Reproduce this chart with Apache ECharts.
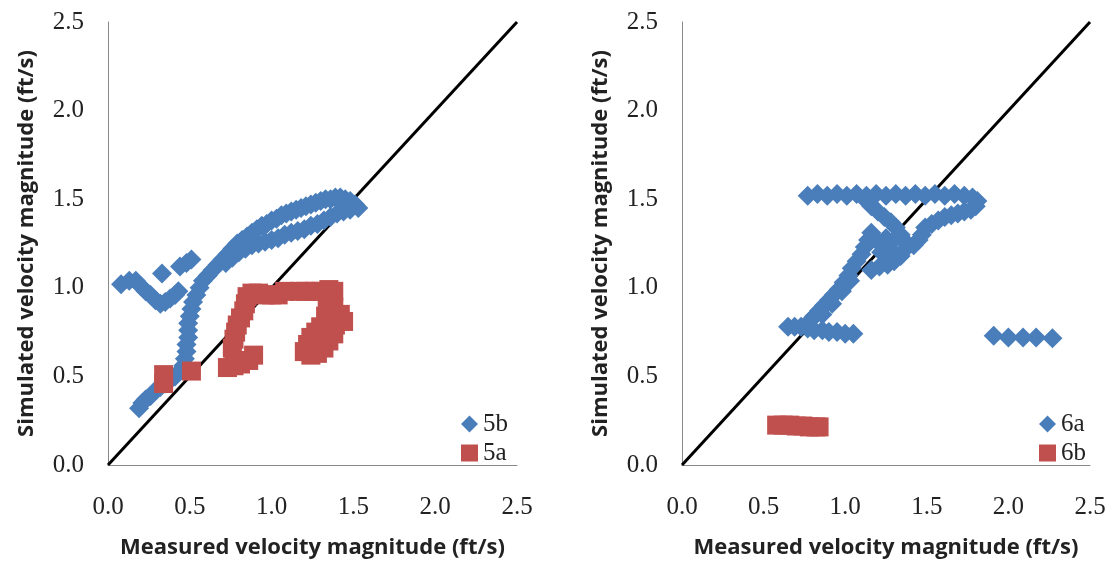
<!DOCTYPE html>
<html lang="en">
<head>
  <meta charset="UTF-8">
  <title>Measured vs simulated velocity</title>
  <script src="https://cdn.jsdelivr.net/npm/echarts@6/dist/echarts.min.js"></script>
</head>
<body style="margin:0;background:#fff;">
<div id="main" style="width:1112px;height:564px;"></div>
<script>
  // axis ticks (both panels)
  var ticks = [0.0, 0.5, 1.0, 1.5, 2.0, 2.5];
  var oneToOne = [[0, 0], [2.5, 2.5]];

  // left panel
  var s5b = [
    // V on the left + loose points
    [0.08, 1.02], [0.13, 1.04], [0.17, 1.04], [0.2, 1.01], [0.23, 0.98], [0.26, 0.96], [0.29, 0.93], [0.32, 0.91],
    [0.35, 0.92], [0.38, 0.94], [0.41, 0.96], [0.43, 0.98],
    [0.33, 1.08], [0.44, 1.12], [0.48, 1.14], [0.51, 1.16],
    // bottom tail
    [0.19, 0.32], [0.21, 0.35], [0.23, 0.37], [0.26, 0.39], [0.29, 0.42], [0.32, 0.44], [0.35, 0.46], [0.38, 0.48],
    [0.41, 0.5], [0.44, 0.53],
    // vertical part
    [0.46, 0.56], [0.47, 0.6], [0.48, 0.64], [0.48, 0.68], [0.49, 0.72], [0.49, 0.76], [0.49, 0.8], [0.5, 0.84],
    [0.51, 0.88], [0.52, 0.92], [0.54, 0.96],
    // upper band
    [0.56, 1.0], [0.58, 1.04], [0.61, 1.07], [0.64, 1.1], [0.67, 1.13], [0.7, 1.16], [0.73, 1.19], [0.76, 1.22],
    [0.79, 1.25], [0.82, 1.27], [0.85, 1.29], [0.88, 1.31], [0.91, 1.33], [0.94, 1.35], [0.97, 1.36], [1.0, 1.38],
    [1.03, 1.39], [1.06, 1.41], [1.09, 1.42], [1.12, 1.43], [1.15, 1.44], [1.18, 1.45], [1.21, 1.46], [1.24, 1.47],
    [1.27, 1.48], [1.3, 1.49], [1.33, 1.5], [1.36, 1.5], [1.39, 1.51], [1.42, 1.51], [1.45, 1.5], [1.48, 1.49],
    [1.51, 1.47], [1.53, 1.45],
    // lower band
    [0.72, 1.14], [0.76, 1.17], [0.8, 1.2], [0.84, 1.22], [0.88, 1.24], [0.92, 1.25], [0.96, 1.26], [1.0, 1.27],
    [1.04, 1.28], [1.08, 1.3], [1.12, 1.31], [1.16, 1.32], [1.2, 1.33], [1.24, 1.35], [1.28, 1.36], [1.32, 1.38],
    [1.36, 1.4], [1.4, 1.42], [1.44, 1.43], [1.48, 1.44]
  ];
  var s5a = [
    [0.34, 0.46], [0.34, 0.51], [0.51, 0.53],
    [0.73, 0.55], [0.77, 0.56], [0.81, 0.57], [0.86, 0.59], [0.89, 0.62],
    [0.76, 0.66], [0.77, 0.71], [0.78, 0.75], [0.79, 0.79], [0.81, 0.83], [0.83, 0.87], [0.84, 0.91], [0.85, 0.95],
    [0.88, 0.97], [0.92, 0.97], [0.96, 0.96], [1.0, 0.96], [1.04, 0.96], [1.08, 0.98],
    [1.17, 0.98], [1.21, 0.98], [1.26, 0.98], [1.3, 0.98], [1.35, 0.99], [1.38, 0.98],
    [1.34, 0.93], [1.38, 0.89], [1.42, 0.85], [1.44, 0.81], [1.39, 0.79], [1.34, 0.78], [1.3, 0.78], [1.27, 0.75],
    [1.24, 0.72], [1.22, 0.68], [1.2, 0.64], [1.24, 0.62], [1.28, 0.63], [1.32, 0.66], [1.35, 0.7], [1.38, 0.74],
    [1.3, 0.71], [1.33, 0.84]
  ];

  // right panel
  var s6a = [
    // top row
    [0.77, 1.52], [0.83, 1.53], [0.89, 1.52], [0.95, 1.53], [1.01, 1.52], [1.07, 1.53], [1.13, 1.52], [1.19, 1.53],
    [1.25, 1.52], [1.31, 1.53], [1.37, 1.52], [1.43, 1.53], [1.49, 1.52], [1.55, 1.53], [1.61, 1.52], [1.67, 1.53],
    [1.73, 1.52], [1.78, 1.51],
    // loop
    [1.81, 1.49], [1.8, 1.46], [1.77, 1.44], [1.73, 1.43], [1.69, 1.42], [1.65, 1.41], [1.61, 1.4], [1.57, 1.38],
    [1.53, 1.36], [1.49, 1.34], [1.47, 1.3], [1.45, 1.27], [1.42, 1.24],
    // stroke down from the top row
    [1.12, 1.5], [1.16, 1.46], [1.2, 1.43], [1.24, 1.4], [1.28, 1.37], [1.31, 1.34], [1.34, 1.3], [1.37, 1.26],
    [1.37, 1.22], [1.34, 1.18], [1.3, 1.15], [1.26, 1.13], [1.21, 1.12], [1.16, 1.1],
    [1.22, 1.2], [1.27, 1.22], [1.25, 1.28], [1.2, 1.26], [1.3, 1.27],
    // diagonal
    [1.16, 1.31], [1.14, 1.27], [1.12, 1.23], [1.1, 1.19], [1.07, 1.15], [1.04, 1.11], [1.02, 1.07], [0.99, 1.03],
    [0.96, 0.99], [0.93, 0.96], [0.9, 0.93], [0.87, 0.9], [0.84, 0.87], [0.81, 0.84], [0.78, 0.81],
    [0.86, 0.85], [0.92, 0.91], [0.98, 0.98], [1.03, 1.04],
    // bottom row
    [0.65, 0.78], [0.69, 0.78], [0.73, 0.78], [0.77, 0.77], [0.81, 0.76], [0.86, 0.76], [0.9, 0.75], [0.95, 0.75],
    [1.0, 0.74], [1.05, 0.74],
    // isolated group on the right
    [1.91, 0.73], [2.0, 0.72], [2.09, 0.72], [2.17, 0.72], [2.27, 0.715]
  ];
  var s6b = [[0.58, 0.225], [0.62, 0.225], [0.66, 0.225], [0.7, 0.22], [0.74, 0.22], [0.78, 0.215], [0.82, 0.215], [0.84, 0.215]];

  var blue = '#4a7ebb';
  var red = '#c0504d';
  var serif = '"Liberation Serif", "DejaVu Serif", serif';
  var sans = '"Open Sans", Lato, sans-serif';

  function fmt(v) { return v.toFixed(1); }
  function xAx(idx) {
    return {
      gridIndex: idx, type: 'value', min: ticks[0], max: ticks[ticks.length - 1], interval: 0.5,
      name: 'Measured velocity magnitude (ft/s)', nameLocation: 'middle', nameGap: 72,
      nameTextStyle: { fontFamily: sans, fontSize: 22, fontWeight: 'bold', color: '#222' },
      axisLine: { lineStyle: { color: '#888', width: 1 } },
      axisTick: { show: false }, splitLine: { show: false },
      axisLabel: { margin: 30, fontFamily: serif, fontSize: 25, color: '#222', formatter: fmt }
    };
  }
  function yAx(idx) {
    return {
      gridIndex: idx, type: 'value', min: ticks[0], max: ticks[ticks.length - 1], interval: 0.5,
      name: 'Simulated velocity magnitude (ft/s)', nameLocation: 'middle', nameGap: 70,
      nameTextStyle: { fontFamily: sans, fontSize: 22, fontWeight: 'bold', color: '#222' },
      axisLine: { lineStyle: { color: '#888', width: 1 } },
      axisTick: { show: false }, splitLine: { show: false },
      axisLabel: { margin: 24, fontFamily: serif, fontSize: 25, color: '#222', formatter: fmt }
    };
  }
  function pts(name, data, idx, shape, size, color) {
    return {
      name: name, type: 'scatter', xAxisIndex: idx, yAxisIndex: idx, data: data,
      symbol: shape, symbolSize: size, itemStyle: { color: color, opacity: 1 }, z: 3
    };
  }
  function diag(idx) {
    return {
      type: 'line', xAxisIndex: idx, yAxisIndex: idx, data: oneToOne, symbol: 'none',
      lineStyle: { color: '#000', width: 3 }, z: 2, silent: true
    };
  }
  function leg(names, left) {
    return {
      data: [{ name: names[0], icon: 'diamond' }, { name: names[1], icon: 'rect' }],
      orient: 'vertical', left: left, top: 411, itemWidth: 17, itemHeight: 17, itemGap: 3, padding: 0,
      textStyle: { fontFamily: serif, fontSize: 25, lineHeight: 26, color: '#222' }
    };
  }

  var myChart = echarts.init(document.getElementById('main'));
  var option = {
    animation: false,
    backgroundColor: '#fff',
    grid: [
      { left: 108, top: 22, width: 409, height: 450 },
      { left: 682, top: 22, width: 408, height: 450 }
    ],
    legend: [leg(['5b', '5a'], 461), leg(['6a', '6b'], 1039)],
    xAxis: [xAx(0), xAx(1)],
    yAxis: [yAx(0), yAx(1)],
    series: [
      diag(0),
      pts('5b', s5b, 0, 'diamond', 20, blue),
      pts('5a', s5a, 0, 'rect', 19, red),
      diag(1),
      pts('6a', s6a, 1, 'diamond', 20, blue),
      pts('6b', s6b, 1, 'rect', 19, red)
    ]
  };
  myChart.setOption(option);
</script>
</body>
</html>
